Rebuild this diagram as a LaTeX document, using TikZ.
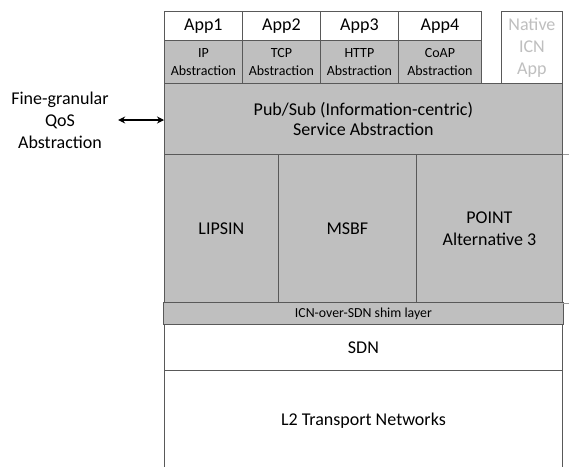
\documentclass[tikz,border=0pt]{standalone}
\usepackage{fontspec}
\setmainfont{Carlito}
\usetikzlibrary{arrows.meta}
\definecolor{boxgray}{HTML}{BFBFBF}
\definecolor{edge}{HTML}{595959}
\definecolor{fadetext}{HTML}{BFBFBF}
\begin{document}
\begin{tikzpicture}[x=1pt,y=-1pt,
  box/.style={draw=edge, line width=0.8pt, fill=boxgray, anchor=north west, inner sep=0pt, align=center, font=\fontsize{18}{20}\selectfont},
  wbox/.style={box, fill=white},
  small/.style={font=\fontsize{14}{18}\selectfont},
  tiny/.style={font=\fontsize{13.8}{15}\selectfont},
  stub/.style={draw=edge!60, line width=0.6pt},
  dbl/.style={{Stealth[length=7pt,width=7pt]}-{Stealth[length=7pt,width=7pt]}, line width=1.1pt, black}]
\useasboundingbox (0,0) rectangle (569,466);
% applications
\node[wbox, minimum width=78, minimum height=29] (app1) at (164,11) {App1};
\node[wbox, minimum width=78, minimum height=29] (app2) at (242,11) {App2};
\node[wbox, minimum width=78, minimum height=29] (app3) at (320,11) {App3};
\node[wbox, minimum width=83, minimum height=29] (app4) at (398,11) {App4};
% abstractions
\node[box, small, minimum width=78, minimum height=43] (ip) at (164,40) {IP\\Abstraction};
\node[box, small, minimum width=78, minimum height=43] (tcp) at (242,40) {TCP\\Abstraction};
\node[box, small, minimum width=78, minimum height=43] (http) at (320,40) {HTTP\\Abstraction};
\node[box, small, minimum width=83, minimum height=43] (coap) at (398,40) {CoAP\\Abstraction};
% native
\node[wbox, text=fadetext, font=\fontsize{18}{22}\selectfont, minimum width=61, minimum height=72] (native) at (501,11) {Native\\ICN\\App};
% pub/sub
\node[box, minimum width=398, minimum height=72] (pubsub) at (164,83) {Pub/Sub (Information-centric)\\Service Abstraction};
% middle
\node[box, minimum width=114, minimum height=148] (lipsin) at (164,154) {LIPSIN};
\node[box, minimum width=138, minimum height=148] (msbf) at (278,154) {MSBF};
\node[box, font=\fontsize{18}{22}\selectfont, minimum width=146, minimum height=148] (point) at (416,154) {POINT\\Alternative 3};
% shim
\node[box, tiny, minimum width=400, minimum height=22] (shim) at (163,302) {ICN-over-SDN shim layer};
% SDN & L2
\node[wbox, minimum width=398, minimum height=46] (sdn) at (164,324) {SDN};
\node[wbox, minimum width=398, minimum height=100] (l2) at (164,370) {L2 Transport Networks};
% stubs at right edge
\draw[stub] (point.north east) -- ++(7,0);
\draw[stub] (point.south east) -- ++(7,0);
% QoS label and arrow
\node[align=center, font=\fontsize{18}{22}\selectfont] (qos) at (60,120) {Fine-granular\\QoS\\Abstraction};
\draw[dbl, shorten <=6pt] (qos.east) -- (qos.east -| pubsub.west);
\end{tikzpicture}
\end{document}
